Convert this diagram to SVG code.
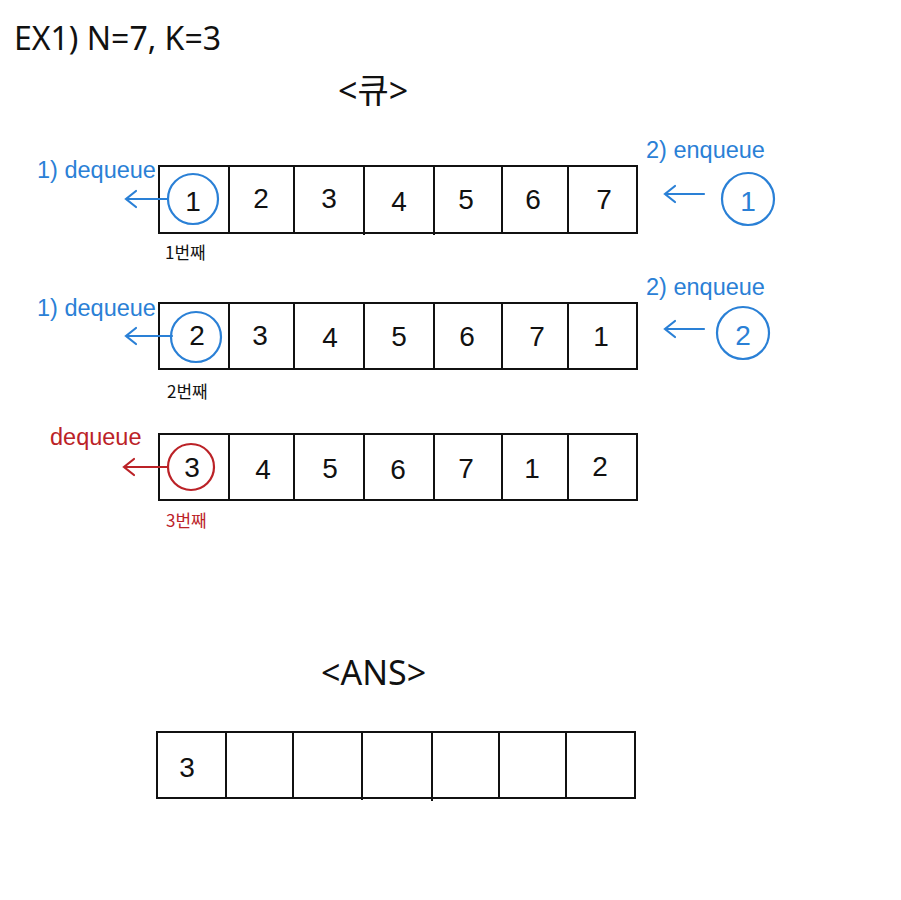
<svg xmlns="http://www.w3.org/2000/svg" width="901" height="900" viewBox="0 0 901 900">
<defs>
<style>
.bg{fill:#ffffff}
.cell{fill:none;stroke:#111;stroke-width:2}
.num{font-family:"Liberation Sans","DejaVu Sans",sans-serif;font-size:28px;fill:#111;text-anchor:middle}
.title{font-family:"Noto Sans","Noto Sans CJK KR",sans-serif;font-size:32px;fill:#111}
.head{font-family:"Noto Sans","Noto Sans CJK KR",sans-serif;font-size:34px;fill:#111}
.blue{fill:#2a80d6;font-family:"Liberation Sans","Noto Sans",sans-serif;font-size:23.5px}
.red{fill:#bb2227;font-family:"Liberation Sans","Noto Sans",sans-serif;font-size:23.5px}
.small{font-family:"Noto Sans CJK KR",sans-serif;font-size:17px;fill:#111}
.smallred{font-family:"Noto Sans CJK KR",sans-serif;font-size:17px;fill:#bb2227}
.bstroke{fill:none;stroke:#2a80d6;stroke-width:2.2;stroke-linecap:round}
.rstroke{fill:none;stroke:#bb2227;stroke-width:2.2;stroke-linecap:round}
</style>
</defs>
<rect class="bg" x="0" y="0" width="901" height="900"/>
<text class="title" x="14" y="50">EX1) N=7, K=3</text>
<text class="head" x="338" y="103">&lt;큐&gt;</text>
<text class="head" x="321" y="685">&lt;ANS&gt;</text>

<g id="row1">
<rect class="cell" x="159" y="166" width="478" height="67"/>
<path class="cell" d="M229 166V233M294 166V233M364 166V235M434 166V235M502 166V233M568 166V233"/>
<text class="num" x="193" y="211">1</text>
<text class="num" x="261" y="208">2</text>
<text class="num" x="329" y="208">3</text>
<text class="num" x="399" y="211">4</text>
<text class="num" x="466" y="209">5</text>
<text class="num" x="533" y="209">6</text>
<text class="num" x="604" y="209">7</text>
<circle class="bstroke" cx="193" cy="199" r="25"/>
<text class="small" x="165" y="259">1번째</text>
</g>

<g id="row2">
<rect class="cell" x="159" y="303" width="478" height="66"/>
<path class="cell" d="M229 303V369M294 303V369M364 303V369M434 303V369M502 303V369M568 303V369"/>
<text class="num" x="197" y="345">2</text>
<text class="num" x="260" y="345">3</text>
<text class="num" x="330" y="347">4</text>
<text class="num" x="399" y="346">5</text>
<text class="num" x="467" y="346">6</text>
<text class="num" x="537" y="346">7</text>
<text class="num" x="601" y="346">1</text>
<circle class="bstroke" cx="196" cy="337" r="25"/>
<text class="small" x="167" y="398">2번째</text>
</g>

<g id="row3">
<rect class="cell" x="159" y="434" width="478" height="66"/>
<path class="cell" d="M229 434V500M294 434V500M364 434V500M434 434V500M502 434V500M568 434V500"/>
<text class="num" x="192" y="477">3</text>
<text class="num" x="263" y="479">4</text>
<text class="num" x="330" y="478">5</text>
<text class="num" x="398" y="479">6</text>
<text class="num" x="466" y="478">7</text>
<text class="num" x="532" y="478">1</text>
<text class="num" x="600" y="476">2</text>
<circle class="rstroke" cx="191" cy="467" r="23"/>
<text class="smallred" x="166" y="527">3번째</text>
</g>

<g id="ans">
<rect class="cell" x="157" y="732" width="478" height="66"/>
<path class="cell" d="M226 732V798M293 732V797M362 732V800M432 732V801M499 732V798M566 732V798"/>
<text class="num" x="187" y="777">3</text>
</g>

<g id="labels">
<text class="blue" x="37" y="178">1) dequeue</text>
<text class="blue" x="37" y="316">1) dequeue</text>
<text class="red" x="50" y="445">dequeue</text>
<text class="blue" x="646" y="158">2) enqueue</text>
<text class="blue" x="646" y="295">2) enqueue</text>
<circle class="bstroke" cx="748" cy="199" r="26"/>
<text class="num" x="748" y="211" style="fill:#2a80d6">1</text>
<circle class="bstroke" cx="743" cy="333" r="26"/>
<text class="num" x="743" y="345" style="fill:#2a80d6">2</text>
</g>

<g id="connectors">
<path class="bstroke" d="M168 199H126M136 191L126 199L136 207"/>
<path class="bstroke" d="M172 336H126M136 328L126 336L136 344"/>
<path class="rstroke" d="M168 467H124M134 459L124 467L134 475"/>
<path class="bstroke" d="M704 194H665M675 186L665 194L675 202"/>
<path class="bstroke" d="M704 329H665M675 321L665 329L675 337"/>
</g>
</svg>
